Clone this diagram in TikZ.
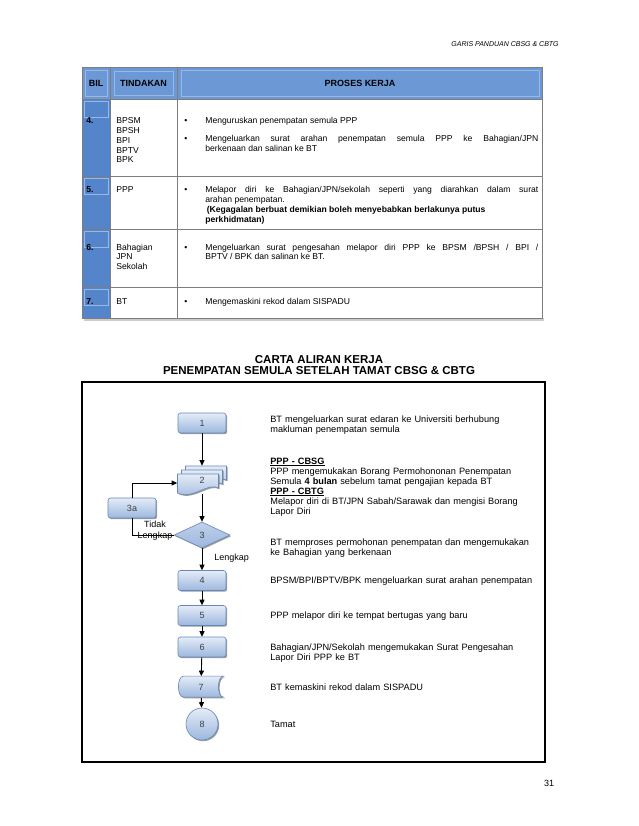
\documentclass[tikz,border=0pt]{standalone}
\usepackage{fontspec}
\setmainfont{Liberation Sans}
\usetikzlibrary{arrows.meta,shapes.geometric,shadows,backgrounds,positioning}
\definecolor{tbhead}{RGB}{108,152,214}
\definecolor{tbbil}{RGB}{84,132,202}
\definecolor{tbinset}{RGB}{150,186,232}
\definecolor{tbrule}{RGB}{125,125,125}
\definecolor{fctop}{RGB}{228,236,247}
\definecolor{fcbot}{RGB}{156,183,222}
\definecolor{fcedge}{RGB}{104,134,184}

\begin{document}
\begin{tikzpicture}[x=1pt,y=-1pt,line width=0.7pt,>={Triangle[length=5.5pt,width=5pt]},
  cell/.style={anchor=base west,inner sep=0pt,align=left,font=\fontsize{8.6}{9.7}\selectfont},
  cellno/.style={cell,font=\bfseries\fontsize{8.6}{9.7}\selectfont},
  head/.style={inner sep=0pt,font=\bfseries\fontsize{9}{10}\selectfont},
  note/.style={anchor=base west,inner sep=0pt,text width=276pt,align=left,font=\fontsize{9.2}{10}\selectfont},
  fcshade/.style={top color=fctop,bottom color=fcbot,draw=fcedge,line width=0.6pt,
    drop shadow={shadow xshift=1.2pt,shadow yshift=-1.2pt,fill=black!55,opacity=0.7}},
  stepbox/.style={fcshade,rectangle,rounded corners=2.5pt,minimum width=48pt,minimum height=20pt,
    inner sep=0pt,font=\fontsize{9}{9}\selectfont,text=black!75},
  flow/.style={->,line width=0.9pt}]
  \useasboundingbox (0,0) rectangle (638,826);
  \node[font=\itshape\fontsize{7}{7}\selectfont,anchor=base east,inner sep=0pt] (guide) at (559,47) {GARIS PANDUAN CBSG \& CBTG};

  \fill[black!20] (84,318) rectangle (544,320.5);
  \fill[tbhead] (82,67) rectangle (542,99);
  \fill[tbbil] (82,99) rectangle (110,318);
  \draw[tbinset] (85,70) rectangle (107,96) (114,71) rectangle (173,95) (181,70) rectangle (539,96);
  \foreach \y in {99,176,229,287}
    \draw[tbinset] (84,\y+2) rectangle (108,\y+18);
  \draw[tbrule] (82,67) rectangle (542,318);
  \foreach \y in {99,176,229,287}
    \draw[tbrule] (82,\y) -- (542,\y);
  \draw[tbrule] (110,67) -- (110,318) (177,67) -- (177,318);
  \node[head] (bil) at (96,83) {BIL};
  \node[head] (tind) at (143.5,83) {TINDAKAN};
  \node[head] (proses) at (360,83) {PROSES KERJA};

  \node[cellno] (no4) at (86,124) {4.};
  \node[cell,text width=58pt] (act4) at (116,124) {BPSM\\BPSH\\BPI\\BPTV\\BPK};
  \node[cell] (dot4a) at (184,124) {\textbullet};
  \node[cell] (job4a) at (205,124) {Menguruskan penempatan semula PPP};
  \node[cell] (dot4b) at (184,142) {\textbullet};
  \node[cell,text width=333pt,align=justify] (job4b) at (205,142) {Mengeluarkan surat arahan penempatan semula PPP ke Bahagian/JPN\linebreak berkenaan dan salinan ke BT};

  \node[cellno] (no5) at (86,193) {5.};
  \node[cell] (act5) at (116,193) {PPP};
  \node[cell] (dot5) at (184,193) {\textbullet};
  \node[cell,text width=333pt,align=justify] (job5) at (205,193) {Melapor diri ke Bahagian/JPN/sekolah seperti yang diarahkan dalam surat\linebreak arahan penempatan.\\\hspace*{1.5pt}\textbf{(Kegagalan berbuat demikian boleh menyebabkan berlakunya putus}\\\textbf{perkhidmatan)}};

  \node[cellno] (no6) at (86,250) {6.};
  \node[cell,text width=58pt] (act6) at (116,250) {Bahagian\\JPN\\Sekolah};
  \node[cell] (dot6) at (184,250) {\textbullet};
  \node[cell,text width=333pt,align=justify] (job6) at (205,250) {Mengeluarkan surat pengesahan melapor diri PPP ke BPSM /BPSH / BPI /\linebreak BPTV / BPK dan salinan ke BT.};

  \node[cellno] (no7) at (86,304) {7.};
  \node[cell] (act7) at (116,304) {BT};
  \node[cell] (dot7) at (184,304) {\textbullet};
  \node[cell] (job7) at (205,304) {Mengemaskini rekod dalam SISPADU};

  \node[font=\bfseries\fontsize{11.5}{11.5}\selectfont,inner sep=0pt,anchor=base] (ttl1) at (319,363) {CARTA ALIRAN KERJA};
  \node[font=\bfseries\fontsize{11.5}{11.5}\selectfont,inner sep=0pt,anchor=base] (ttl2) at (319,374.5) {PENEMPATAN SEMULA SETELAH TAMAT CBSG \& CBTG};
  \draw[line width=1.3pt] (82,382) rectangle (545,762);

  \node[stepbox] (n1) at (202,423) {1};
  \node[minimum width=49pt,minimum height=28pt,inner sep=0pt,font=\fontsize{9}{9}\selectfont,text=black!75] (n2) at (202,480) {2};
  \node[stepbox] (n3a) at (132,508) {3a};
  \node[diamond,aspect=2,minimum width=56pt,minimum height=26pt,inner sep=0pt,draw=fcedge,line width=0.6pt,
    top color=fctop!50!fcbot,bottom color=fcbot,drop shadow={shadow xshift=1.2pt,shadow yshift=-1.2pt,fill=black!55,opacity=0.7},
    font=\fontsize{9}{9}\selectfont,text=black!75] (n3) at (202,535) {3};
  \node[stepbox] (n4) at (202,580.5) {4};
  \node[stepbox] (n5) at (202,615.5) {5};
  \node[stepbox] (n6) at (202,647) {6};
  \node[minimum width=46pt,minimum height=21pt,inner sep=0pt,font=\fontsize{9}{9}\selectfont,text=black!75] (n7) at (201,687) {7};
  \node[fcshade,circle,minimum size=32pt,inner sep=0pt,font=\fontsize{9}{9}\selectfont,text=black!75] (n8) at (202,724) {8};
  \begin{scope}[on background layer]
    \foreach \d in {8,4,0}
      \path[fcshade,shift={(n2.center)},shift={(-24.5+\d,-6-\d)}] (0,0) -- (41,0) -- (41,14)
        .. controls (30,8) and (16,26) .. (0,19) -- cycle;
    \path[fcshade,shift={(n7.north west)}] (46,0) -- (6,0) .. controls (-1,0) and (-1,21) .. (6,21)
      -- (46,21) .. controls (39,21) and (39,0) .. (46,0) -- cycle;
  \end{scope}

  \draw[flow] (n1) -- (n2);
  \draw[flow] (n2) -- (n3);
  \draw[flow] (n3) -- (n4);
  \draw[flow] (n4) -- (n5);
  \draw[flow] (n5) -- (n6);
  \draw[flow] (n6) -- (n7);
  \draw[flow] (n7) -- (n8);
  \draw[flow] (n3a.north) |- ([yshift=-3pt]n2.west);
  \draw[line width=0.9pt] (n3.west) -| (n3a.south);
  \node[font=\fontsize{9}{11}\selectfont,align=center,inner sep=0pt] (tidak) at (155,530.5) {Tidak\\Lengkap};
  \node[font=\fontsize{9}{9}\selectfont,anchor=west,inner sep=0pt] (lengkap) at (214,558) {Lengkap};

  \node[note] (t1) at (270,422) {BT mengeluarkan surat edaran ke Universiti berhubung\\makluman penempatan semula};
  \node[note] (t2) at (270,464) {\textbf{\underline{PPP - CBSG}}\\PPP mengemukakan Borang Permohononan Penempatan\\Semula \textbf{4 bulan} sebelum tamat pengajian kepada BT\\\textbf{\underline{PPP - CBTG}}\\Melapor diri di BT/JPN Sabah/Sarawak dan mengisi Borang\\Lapor Diri};
  \node[note] (t3) at (270,545) {BT memproses permohonan penempatan dan mengemukakan\\ke Bahagian yang berkenaan};
  \node[note] (t4) at (270,583.5) {BPSM/BPI/BPTV/BPK mengeluarkan surat arahan penempatan};
  \node[note] (t5) at (270,618) {PPP melapor diri ke tempat bertugas yang baru};
  \node[note] (t6) at (270,650) {Bahagian/JPN/Sekolah mengemukakan Surat Pengesahan\\Lapor Diri PPP ke BT};
  \node[note] (t7) at (270,690) {BT kemaskini rekod dalam SISPADU};
  \node[note] (t8) at (270,727) {Tamat};
  \node[font=\fontsize{9}{9}\selectfont,inner sep=0pt] (page) at (549,783) {31};
\end{tikzpicture}
\end{document}
